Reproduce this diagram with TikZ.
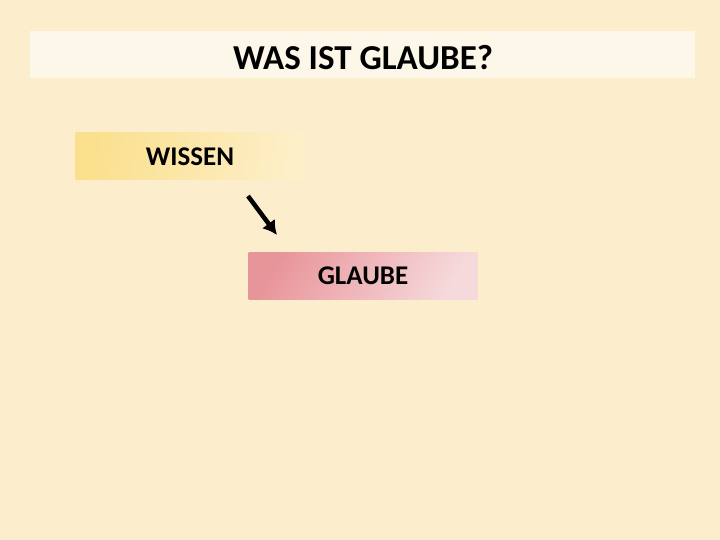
\documentclass[tikz,border=0pt]{standalone}
\usepackage{fontspec}
\setmainfont{Carlito}
\usetikzlibrary{arrows.meta}
\definecolor{paper}{HTML}{FCEDCD}
\definecolor{band}{HTML}{FDF7EA}
\definecolor{wissenA}{HTML}{FADF8C}
\definecolor{wissenB}{HTML}{FDEFC8}
\definecolor{glaubeA}{HTML}{E8959A}
\definecolor{glaubeB}{HTML}{F6D9DB}
\tikzset{box/.style = {rectangle, inner sep=0pt, minimum width=229pt,
                       minimum height=47pt, font=\fontsize{27}{30}\selectfont\bfseries},
         pfeil/.style = {-{Latex[length=14pt,width=16pt]}, line width=4.5pt, black}}

\begin{document}
\begin{tikzpicture}[x=1pt, y=-1pt]
    \fill [paper] (0, 0) rectangle (720, 540);
    \useasboundingbox (0, 0) rectangle (720, 540);
    \fill [band] (30, 31) rectangle (695, 78);
    \node (title) [font=\fontsize{35}{40}\selectfont\bfseries] at (363, 58) {WAS IST GLAUBE?};
    \node (wissen) [box, left color=wissenA, right color=wissenB, shading angle=80] at (190, 156.5) {WISSEN};
    \node (glaube) [box, left color=glaubeA, right color=glaubeB, shading angle=60]
        at (363, 275.5) {GLAUBE};
    \coordinate (von) at (248, 196);
    \coordinate (nach) at (277, 235);
    \draw [pfeil] (von) -- (nach);
\end{tikzpicture}
\end{document}
